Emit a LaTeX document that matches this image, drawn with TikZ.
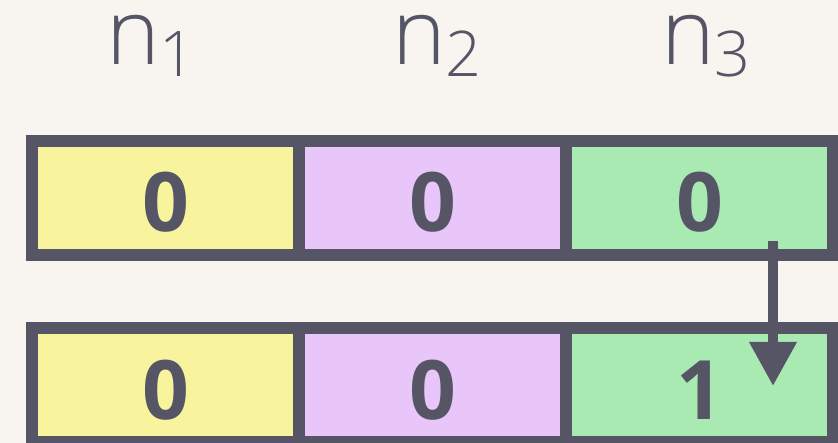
\documentclass[tikz,border=0pt]{standalone}
\usepackage{fontspec}
\setmainfont{Open Sans}
\newfontfamily\thinfont{Open Sans Light}
\usetikzlibrary{arrows.meta}
\definecolor{bgcol}{HTML}{F8F5F0}
\definecolor{ink}{HTML}{555566}
\definecolor{cellyellow}{HTML}{F8F49E}
\definecolor{cellpurple}{HTML}{E8C6F9}
\definecolor{cellgreen}{HTML}{A9E9B2}
\newcommand{\varname}[1]{{\fontsize{91}{91}\selectfont n}{\fontsize{63}{63}\selectfont\raisebox{-12pt}{#1}}}
\begin{document}
\begin{tikzpicture}[x=1pt,y=-1pt,
  cell/.style={draw=ink, line width=11.5pt, minimum width=267pt, minimum height=114pt, inner sep=0pt,
    text=ink, font=\fontsize{82}{82}\selectfont\bfseries, text height=68pt, text depth=0pt},
  varlabel/.style={text=ink, font=\thinfont, anchor=base, inner sep=0pt, text height=50pt, text depth=14pt}]
\fill[bgcol] (0,0) rectangle (838,443);
\useasboundingbox (0,0) rectangle (838,443);

\node[varlabel] (lab1) at (151,65) {\varname{1}};
\node[varlabel] (lab2) at (437,65) {\varname{2}};
\node[varlabel] (lab3) at (706,65) {\varname{3}};

\node[cell, fill=cellyellow] (top1) at (165.5,198) {0};
\node[cell, fill=cellpurple] (top2) at (432.5,198) {0};
\node[cell, fill=cellgreen] (top3) at (699.5,198) {0};

\node[cell, fill=cellyellow] (bot1) at (165.5,385) {0};
\node[cell, fill=cellpurple] (bot2) at (432.5,385) {0};
\node[cell, fill=cellgreen] (bot3) at (699.5,385) {1};

\coordinate (flipstart) at (773,241);
\coordinate (flipend) at (773,386);
\draw[ink, line width=10pt, -{Triangle[width=45pt,length=44pt]}] (flipstart) -- (flipend);
\end{tikzpicture}
\end{document}
